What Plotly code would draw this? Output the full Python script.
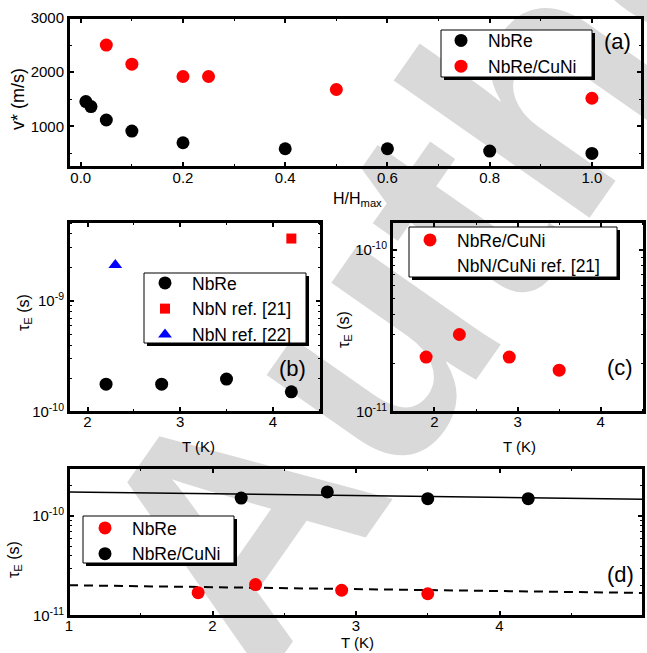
import base64
import plotly.graph_objects as go

# ---------------- data ----------------
# panel (a): v* vs H/Hmax
h_nbre = [0.01, 0.02, 0.05, 0.1, 0.2, 0.4, 0.6, 0.8, 1.0]
v_nbre = [1457, 1365, 1117, 913, 698, 587, 587, 543, 500]
h_cuni = [0.05, 0.1, 0.2, 0.25, 0.5, 1.0]
v_cuni = [2500, 2148, 1920, 1920, 1680, 1519]

# panel (b): tau_E vs T
T_b_nbre = [2.2, 2.8, 3.5, 4.2]
tau_b_nbre = [1.78e-10, 1.78e-10, 1.98e-10, 1.52e-10]
T_b_ref21 = [4.2]
tau_b_ref21 = [3.64e-9]
T_b_ref22 = [2.3]
tau_b_ref22 = [2.1e-9]

# panel (c)
T_c_cuni = [1.9, 2.3, 2.9, 3.5]
tau_c_cuni = [2.18e-11, 3.0e-11, 2.18e-11, 1.81e-11]
T_c_ref21 = [3.5, 3.8, 4.2]
tau_c_ref21 = [4.58e-11, 5.36e-11, 3.76e-11]

# panel (d)
T_d_nbre = [1.9, 2.3, 2.9, 3.5]
tau_d_nbre = [1.71e-11, 2.06e-11, 1.81e-11, 1.67e-11]
T_d_cuni = [2.2, 2.8, 3.5, 4.2]
tau_d_cuni = [1.51e-10, 1.74e-10, 1.49e-10, 1.49e-10]
fit_T = [1, 5]
fit_nbre = [2.03e-11, 1.70e-11]
fit_cuni = [1.74e-10, 1.47e-10]

# ---------------- layout helpers ----------------
W, H = 647, 653
FONT = "Liberation Sans, Arial, sans-serif"


def px(x):
    return x / W


def py(y):
    return 1 - y / H


MINOR = dict(ticks="inside", ticklen=3, tickwidth=1.2, tickcolor="black", showgrid=False)


def axis_style(minor_extra=None, **kw):
    mn = dict(MINOR)
    if minor_extra:
        mn.update(minor_extra)
    d = dict(showline=True, linecolor="black", linewidth=2, mirror="allticks",
             ticks="inside", ticklen=5, tickwidth=1.5, tickcolor="black",
             showgrid=False, zeroline=False, automargin=False,
             tickfont=dict(family=FONT, size=15, color="black"),
             minor=mn)
    d.update(kw)
    return d


def log_minor(lo, hi):
    vals = []
    for e in range(lo, hi + 1):
        for m in range(2, 10):
            vals.append(m * 10.0 ** e)
    return vals


fig = go.Figure()

# panel (a)
fig.add_trace(go.Scatter(x=h_nbre, y=v_nbre, mode="markers", name="NbRe",
                         marker=dict(color="black", size=13), xaxis="x", yaxis="y",
                         legend="legend"))
fig.add_trace(go.Scatter(x=h_cuni, y=v_cuni, mode="markers", name="NbRe/CuNi",
                         marker=dict(color="#ff0000", size=13), xaxis="x", yaxis="y",
                         legend="legend"))
# panel (b)
fig.add_trace(go.Scatter(x=T_b_nbre, y=tau_b_nbre, mode="markers", name="NbRe",
                         marker=dict(color="black", size=13), xaxis="x2", yaxis="y2",
                         legend="legend2"))
fig.add_trace(go.Scatter(x=T_b_ref21, y=tau_b_ref21, mode="markers", name="NbN ref. [21]",
                         marker=dict(color="#ff0000", size=10, symbol="square"),
                         xaxis="x2", yaxis="y2", legend="legend2"))
fig.add_trace(go.Scatter(x=T_b_ref22, y=tau_b_ref22, mode="markers", name="NbN ref. [22]",
                         marker=dict(color="#0000ff", size=12, symbol="triangle-up"),
                         xaxis="x2", yaxis="y2", legend="legend2"))
# panel (c)
fig.add_trace(go.Scatter(x=T_c_cuni, y=tau_c_cuni, mode="markers", name="NbRe/CuNi",
                         marker=dict(color="#ff0000", size=13), xaxis="x3", yaxis="y3",
                         legend="legend3"))
fig.add_trace(go.Scatter(x=T_c_ref21, y=tau_c_ref21, mode="markers", name="NbN/CuNi ref. [21]",
                         marker=dict(color="white", size=10, symbol="circle-open",
                                     line=dict(color="black", width=2.2)),
                         xaxis="x3", yaxis="y3", legend="legend3"))
# panel (d)
fig.add_trace(go.Scatter(x=fit_T, y=fit_cuni, mode="lines", showlegend=False,
                         line=dict(color="black", width=1.5), xaxis="x4", yaxis="y4"))
fig.add_trace(go.Scatter(x=fit_T, y=fit_nbre, mode="lines", showlegend=False,
                         line=dict(color="black", width=2, dash="9px,6px"), xaxis="x4", yaxis="y4"))
fig.add_trace(go.Scatter(x=T_d_nbre, y=tau_d_nbre, mode="markers", name="NbRe",
                         marker=dict(color="#ff0000", size=13), xaxis="x4", yaxis="y4",
                         legend="legend4"))
fig.add_trace(go.Scatter(x=T_d_cuni, y=tau_d_cuni, mode="markers", name="NbRe/CuNi",
                         marker=dict(color="black", size=13), xaxis="x4", yaxis="y4",
                         legend="legend4"))

sup = lambda e: "10<sup>%d</sup>" % e

fig.update_layout(
    width=W, height=H, margin=dict(l=0, r=0, t=0, b=0, autoexpand=False),
    paper_bgcolor="white", plot_bgcolor="rgba(0,0,0,0)",
    font=dict(family=FONT, color="black"),
    xaxis=axis_style(dict(dtick=0.1, tick0=0), domain=[px(69), px(642)], range=[-0.023, 1.098],
                     anchor="y", tickvals=[0, 0.2, 0.4, 0.6, 0.8, 1.0], tickformat=".1f",
                     ticklabelstandoff=-4),
    yaxis=axis_style(dict(dtick=500, tick0=0), domain=[py(167), py(18)], range=[250, 3000],
                     anchor="x", tickvals=[1000, 2000, 3000]),
    xaxis2=axis_style(dict(dtick=0.5, tick0=0), domain=[px(69), px(321)], range=[1.8, 4.52],
                      anchor="y2", tickvals=[2, 3, 4], ticklabelstandoff=-5),
    yaxis2=axis_style(dict(tickvals=log_minor(-10, -9)), type="log",
                      domain=[py(412), py(222)], range=[-10, -8.29], anchor="x2",
                      tickvals=[1e-10, 1e-9], ticktext=[sup(-10), sup(-9)]),
    xaxis3=axis_style(dict(dtick=0.5, tick0=0), domain=[px(392), px(644)], range=[1.49, 4.52],
                      anchor="y3", tickvals=[2, 3, 4], ticklabelstandoff=-5),
    yaxis3=axis_style(dict(tickvals=log_minor(-11, -10)), type="log",
                      domain=[py(412), py(222)], range=[-11, -9.83], anchor="x3",
                      tickvals=[1e-11, 1e-10], ticktext=[sup(-11), sup(-10)]),
    xaxis4=axis_style(dict(dtick=0.5, tick0=0), domain=[px(69), px(643)], range=[1, 5],
                      anchor="y4", tickvals=[1, 2, 3, 4, 5], ticklabelstandoff=-5),
    yaxis4=axis_style(dict(tickvals=log_minor(-11, -10)), type="log",
                      domain=[py(616), py(468)], range=[-11, -9.52], anchor="x4",
                      tickvals=[1e-11, 1e-10], ticktext=[sup(-11), sup(-10)]),
)

leg_common = dict(bgcolor="rgba(0,0,0,0)", borderwidth=0, itemwidth=44,
                  font=dict(family=FONT, size=17.5, color="black"),
                  xanchor="left", yanchor="top", tracegroupgap=0, itemclick=False)
fig.update_layout(
    legend=dict(x=px(434), y=py(22.5), **leg_common),
    legend2=dict(x=px(138), y=py(265), **leg_common),
    legend3=dict(x=px(403), y=py(222), **leg_common),
    legend4=dict(x=px(78), y=py(510), **leg_common),
)

shapes = []
# plot frames
for ax in ["", "2", "3", "4"]:
    shapes.append(dict(type="rect", xref="x%s domain" % ax, yref="y%s domain" % ax,
                       x0=0, x1=1, y0=0, y1=1, line=dict(color="black", width=2),
                       fillcolor="rgba(0,0,0,0)", layer="above"))
# legend frames with drop shadow (legend text sits on top)
boxes = [(441, 30, 592, 77), (144, 273, 306, 343), (409, 227, 617, 277), (83, 516, 234, 563)]
for (x0, y0, x1, y1) in boxes:
    shapes.append(dict(type="rect", xref="paper", yref="paper",
                       x0=px(x0 + 3), x1=px(x1 + 3), y0=py(y1 + 3), y1=py(y0 + 3),
                       fillcolor="black", line=dict(width=0), layer="above"))
    shapes.append(dict(type="rect", xref="paper", yref="paper",
                       x0=px(x0), x1=px(x1), y0=py(y1), y1=py(y0),
                       fillcolor="white", line=dict(color="black", width=1), layer="above"))
fig.update_layout(shapes=shapes)

# light grey "Author" watermark behind the plots
svg = ('<svg xmlns="http://www.w3.org/2000/svg" width="647" height="653" viewBox="0 0 647 653">'
       '<text x="261" y="687" transform="rotate(-55 261 687)" '
       'font-family="Liberation Sans, Arial, sans-serif" font-weight="bold" '
       'font-size="330" fill="#d9d9d9">Author</text></svg>')
fig.add_layout_image(dict(source="data:image/svg+xml;base64," + base64.b64encode(svg.encode()).decode(),
                          xref="paper", yref="paper", x=0, y=1, sizex=1, sizey=1,
                          xanchor="left", yanchor="top", sizing="stretch", layer="below"))

# axis titles and panel labels
ann = []


def add_text(text, x, y, size=15, angle=0):
    ann.append(dict(text=text, x=px(x), y=py(y), xref="paper", yref="paper",
                    showarrow=False, textangle=angle,
                    font=dict(family=FONT, size=size, color="black"),
                    xanchor="center", yanchor="middle"))


add_text("v* (m/s)", 18, 99, 18, -90)
add_text("H/H<sub>max</sub>", 357, 200, 16)
add_text("τ<sub>E</sub> (s)", 24, 313, 16, -90)
add_text("T (K)", 198, 446, 15)
add_text("τ<sub>E</sub> (s)", 344, 330, 16, -90)
add_text("T (K)", 519, 446, 15)
add_text("τ<sub>E</sub> (s)", 14, 560, 16, -90)
add_text("T (K)", 357, 642, 15)
add_text("(a)", 617, 42, 22)
add_text("(b)", 292, 368, 22)
add_text("(c)", 620, 367, 22)
add_text("(d)", 620, 574, 22)
fig.update_layout(annotations=ann)

fig.write_html("out.html", config={"displayModeBar": False},
               post_script="document.body.style.margin='0';document.body.style.padding='0';"
                           "document.documentElement.style.overflow='hidden';")
